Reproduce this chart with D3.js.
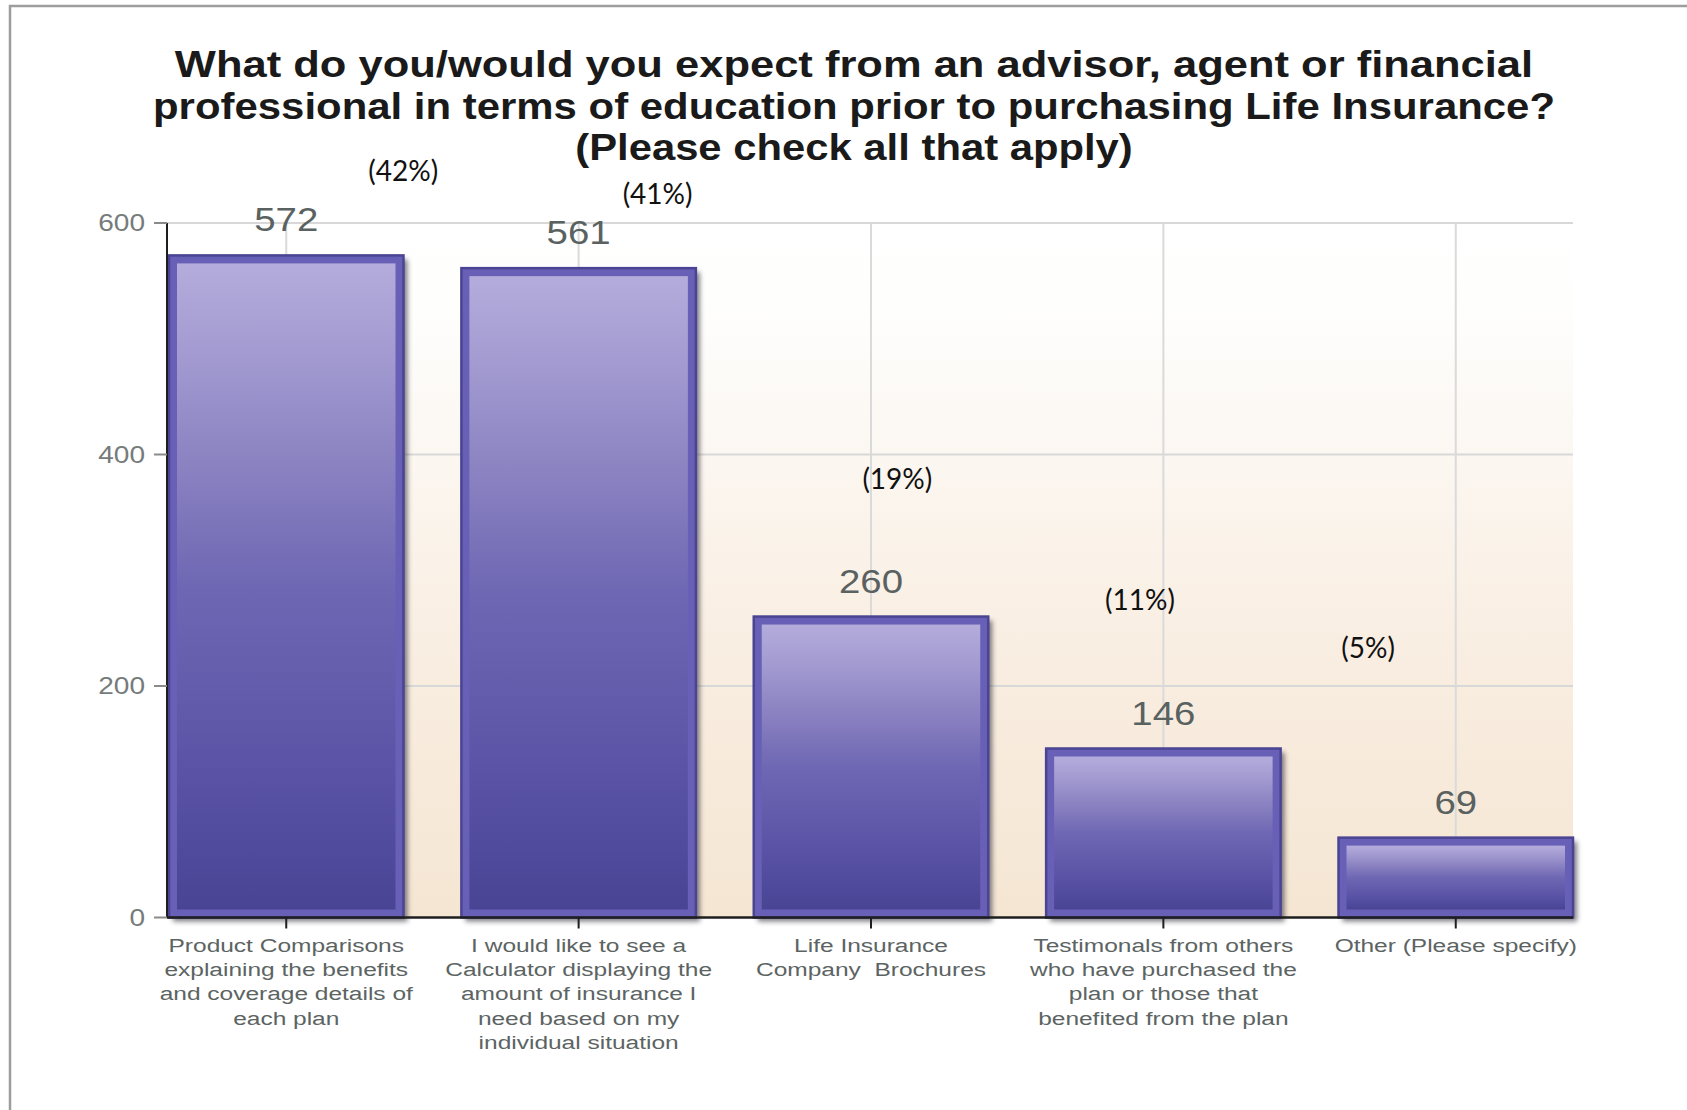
<!DOCTYPE html>
<html>
<head>
<meta charset="utf-8">
<script src="https://cdn.jsdelivr.net/npm/d3@7"></script>
<style>
  html, body { margin: 0; padding: 0; background: #ffffff; }
  svg { display: block; }
  text { white-space: pre; }
</style>
</head>
<body>
<svg id="chart" width="1687" height="1110"></svg>
<script>
// ---- data ----
const titleLines = [
  "What do you/would you expect from an advisor, agent or financial",
  "professional in terms of education prior to purchasing Life Insurance?",
  "(Please check all that apply)"
];
const categories = [
  "Product Comparisons",
  "Calculator",
  "Brochures",
  "Testimonials",
  "Other"
];
const categoryLabels = [
  ["Product Comparisons", "explaining the benefits", "and coverage details of", "each plan"],
  ["I would like to see a", "Calculator displaying the", "amount of insurance I", "need based on my", "individual situation"],
  ["Life Insurance", "Company  Brochures"],
  ["Testimonals from others", "who have purchased the", "plan or those that", "benefited from the plan"],
  ["Other (Please specify)"]
];
const counts = [572, 561, 260, 146, 69];
const percents = ["42%", "41%", "19%", "11%", "5%"];
const yTicks = [0, 200, 400, 600];

// annotation anchors for the percentage call-outs (band-step offset, value level)
const pctNudge = [0.40, 0.27, 0.09, -0.08, -0.30];
const pctLevel = [636, 616, 370, 266, 224];

// ---- layout ----
const W = 1687, H = 1110;
const plot = { left: 167, right: 1573, top: 223, bottom: 917.5 };
const titleStretch = [1.16, 1.118, 1.115];

const svg = d3.select("#chart");
const defs = svg.append("defs");

// page frame
svg.append("path")
  .attr("d", `M10,${H} L10,6 L${W},6`)
  .attr("fill", "none")
  .attr("stroke", "#9d9d9d")
  .attr("stroke-width", 2.5);

// scales
const x = d3.scaleBand()
  .domain(categories)
  .range([plot.left + 2, plot.right])
  .paddingInner(0.198)
  .paddingOuter(0);

const y = d3.scaleLinear()
  .domain([0, 600])
  .range([plot.bottom, plot.top]);

// gradients
const bg = defs.append("linearGradient")
  .attr("id", "plotBg").attr("x1", 0).attr("x2", 0).attr("y1", 0).attr("y2", 1);
[[0, "#ffffff"], [0.12, "#fefefd"], [0.3, "#fcf8f3"], [0.6, "#f9eee2"], [1, "#f5e6d3"]]
  .forEach(([o, c]) => bg.append("stop").attr("offset", o).attr("stop-color", c));

const barGrad = defs.append("linearGradient")
  .attr("id", "barFill").attr("x1", 0).attr("x2", 0).attr("y1", 0).attr("y2", 1);
[[0, "#b4acdb"], [0.1, "#a8a0d4"], [0.3, "#8c84c2"], [0.5, "#6e67b3"], [0.75, "#5d56a8"], [0.93, "#4f499b"], [1, "#4a4494"]]
  .forEach(([o, c]) => barGrad.append("stop").attr("offset", o).attr("stop-color", c));

const shadow = defs.append("filter").attr("id", "barShadow")
  .attr("x", "-10%").attr("y", "-10%").attr("width", "130%").attr("height", "130%");
shadow.append("feGaussianBlur").attr("stdDeviation", 2.5);

// plot background
svg.append("rect")
  .attr("x", plot.left).attr("y", plot.top)
  .attr("width", plot.right - plot.left).attr("height", plot.bottom - plot.top)
  .attr("fill", "url(#plotBg)");

// horizontal grid
svg.append("g")
  .selectAll("line")
  .data(yTicks.filter(d => d > 0))
  .join("line")
  .attr("x1", plot.left).attr("x2", plot.right)
  .attr("y1", d => y(d)).attr("y2", d => y(d))
  .attr("stroke", "#d8d8d8").attr("stroke-width", 2);

// vertical grid at category centres
svg.append("g")
  .selectAll("line")
  .data(categories)
  .join("line")
  .attr("x1", d => x(d) + x.bandwidth() / 2).attr("x2", d => x(d) + x.bandwidth() / 2)
  .attr("y1", plot.top).attr("y2", plot.bottom)
  .attr("stroke", "#dadada").attr("stroke-width", 2);

// bars
const bars = svg.append("g")
  .selectAll("g")
  .data(categories.map((c, i) => ({ c, v: counts[i], i })))
  .join("g");

bars.append("rect")
  .attr("x", d => x(d.c) + 4)
  .attr("y", d => y(d.v) + 4)
  .attr("width", x.bandwidth())
  .attr("height", d => y(0) - y(d.v))
  .attr("fill", "#3c3a44")
  .attr("opacity", 0.65)
  .attr("filter", "url(#barShadow)");

bars.append("rect")
  .attr("x", d => x(d.c))
  .attr("y", d => y(d.v))
  .attr("width", x.bandwidth())
  .attr("height", d => y(0) - y(d.v))
  .attr("fill", "#6760b6")
  .attr("stroke", "#4a4492")
  .attr("stroke-width", 2.5);

bars.append("rect")
  .attr("x", d => x(d.c) + 8)
  .attr("y", d => y(d.v) + 8)
  .attr("width", x.bandwidth() - 16)
  .attr("height", d => Math.max(0, y(0) - y(d.v) - 16))
  .attr("fill", "url(#barFill)");

// horizontally stretched text helper
function stretchedText(g, tx, ty, str, opts) {
  const t = g.append("g")
    .attr("transform", `translate(${tx},${ty}) scale(${opts.sx || 1},1)`)
    .append("text")
    .attr("x", 0).attr("y", 0)
    .attr("text-anchor", opts.anchor || "middle")
    .attr("font-family", opts.family || "'Liberation Sans', Arial, sans-serif")
    .attr("font-size", opts.size)
    .attr("font-weight", opts.weight || "normal")
    .attr("fill", opts.fill || "#000")
    .text(str);
  return t;
}

// value labels above bars
const valG = svg.append("g");
categories.forEach((c, i) => {
  stretchedText(valG, x(c) + x.bandwidth() / 2, y(counts[i]) - 24, String(counts[i]),
    { size: 34, sx: 1.13, fill: "#5a6261" });
});

// percentage call-outs
const pctG = svg.append("g");
categories.forEach((c, i) => {
  pctG.append("text")
    .attr("x", x(c) + x.bandwidth() / 2 + pctNudge[i] * x.step())
    .attr("y", y(pctLevel[i]))
    .attr("text-anchor", "middle")
    .attr("font-family", "Lato, 'Open Sans', sans-serif")
    .attr("font-size", 28)
    .attr("fill", "#111")
    .text(`(${percents[i]})`);
});

// y axis
const yAxis = svg.append("g");
yAxis.append("line")
  .attr("x1", plot.left).attr("x2", plot.left)
  .attr("y1", y(600)).attr("y2", y(0))
  .attr("stroke", "#1e1e1e").attr("stroke-width", 2);
yTicks.forEach(t => {
  yAxis.append("line")
    .attr("x1", plot.left - 13).attr("x2", plot.left)
    .attr("y1", y(t)).attr("y2", y(t))
    .attr("stroke", "#8a8a8a").attr("stroke-width", 2);
  stretchedText(yAxis, plot.left - 22, y(t) + 8, String(t),
    { size: 23, sx: 1.22, anchor: "end", fill: "#767b7b" });
});

// x axis
const xAxis = svg.append("g");
xAxis.append("line")
  .attr("x1", plot.left).attr("x2", plot.right)
  .attr("y1", y(0)).attr("y2", y(0))
  .attr("stroke", "#1e1e1e").attr("stroke-width", 2.5);
categories.forEach((c, i) => {
  const cx = x(c) + x.bandwidth() / 2;
  xAxis.append("line")
    .attr("x1", cx).attr("x2", cx)
    .attr("y1", y(0)).attr("y2", y(0) + 11)
    .attr("stroke", "#1e1e1e").attr("stroke-width", 2);
  categoryLabels[i].forEach((line, k) => {
    stretchedText(xAxis, cx, y(0) + 34 + k * 24.4, line,
      { size: 19, sx: 1.29, fill: "#5c6463" });
  });
});

// title
const titleG = svg.append("g");
titleLines.forEach((line, k) => {
  stretchedText(titleG, 854, 77 + k * 41.5, line,
    { size: 37.5, sx: titleStretch[k], weight: "bold", fill: "#1a1a1a" });
});
</script>
</body>
</html>
